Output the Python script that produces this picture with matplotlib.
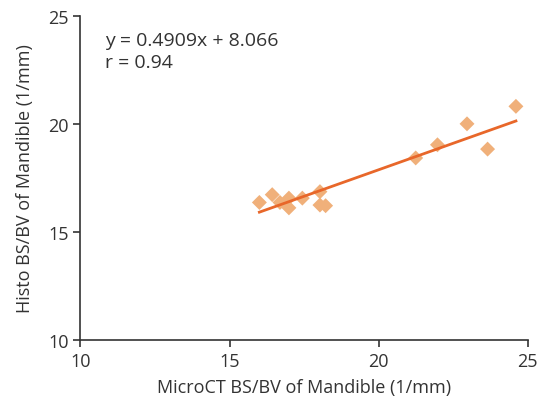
import matplotlib
matplotlib.use("Agg")
import matplotlib.pyplot as plt
import numpy as np

microct = [16.0, 16.43, 16.69, 16.99, 16.99, 17.44, 18.03, 18.03, 18.22, 21.24, 21.97, 22.96, 23.65, 24.6]
histo = [16.37, 16.73, 16.37, 16.57, 16.12, 16.57, 16.87, 16.25, 16.22, 18.43, 19.04, 20.01, 18.84, 20.82]
slope, intercept = 0.4909, 8.066

plt.rcParams['font.family'] = ['Open Sans', 'DejaVu Sans']
fig = plt.figure(figsize=(5.47, 4.06), dpi=100)
ax = fig.add_axes([0.147, 0.16, 0.818, 0.798])

ax.scatter(microct, histo, marker='D', s=58, color='#F0B07A', edgecolors='none', zorder=2)
xs = np.array([min(microct), max(microct)])
ax.plot(xs, slope * xs + intercept, color='#E8672A', lw=2, zorder=3)

ax.set_xlim(10, 25)
ax.set_ylim(10, 25)
ax.set_xticks([10, 15, 20, 25])
ax.set_yticks([10, 15, 20, 25])
for s in ['top', 'right']:
    ax.spines[s].set_visible(False)
for s in ['left', 'bottom']:
    ax.spines[s].set_color('#333333')
    ax.spines[s].set_linewidth(1.2)
ax.tick_params(direction='out', length=5, width=1.2, colors='#333333', labelsize=13, labelcolor='#333333')
ax.set_xlabel('MicroCT BS/BV of Mandible (1/mm)', fontsize=13, color='#333333', labelpad=6)
ax.set_ylabel('Histo BS/BV of Mandible (1/mm)', fontsize=13, color='#333333', labelpad=10)
ax.text(0.056, 0.955, 'y = 0.4909x + 8.066\nr = 0.94', transform=ax.transAxes, fontsize=14,
        color='#333333', va='top', ha='left', linespacing=1.3)

fig.savefig('out.png', dpi=100)
